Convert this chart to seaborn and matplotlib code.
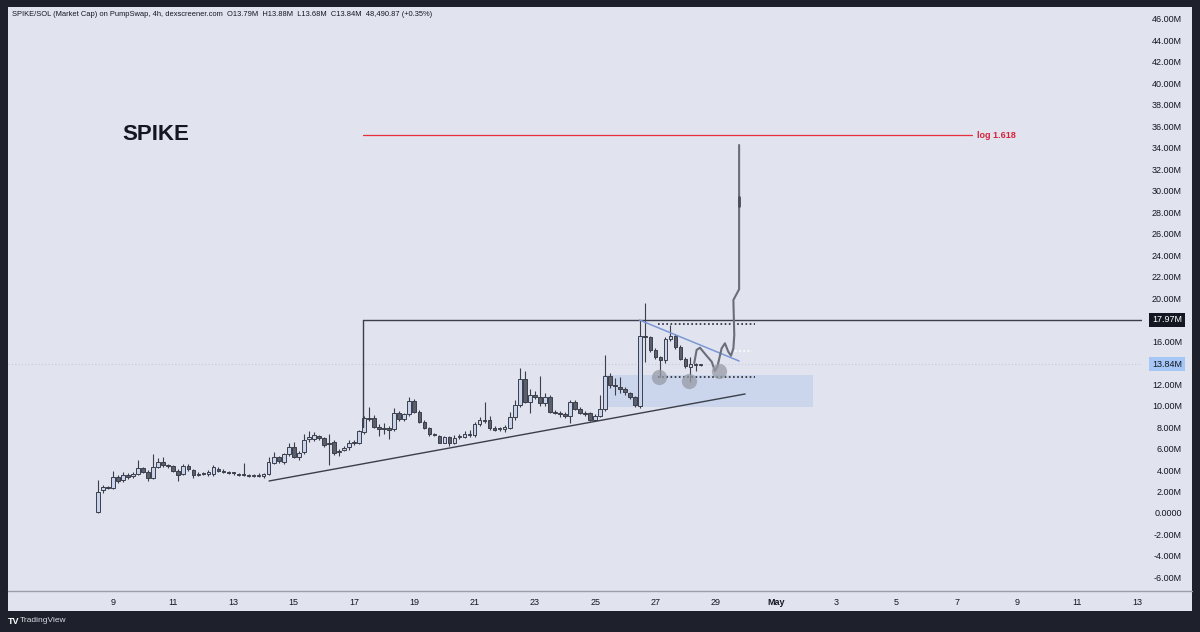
import numpy as np
import pandas as pd
import matplotlib
matplotlib.use("Agg")
import matplotlib.pyplot as plt
import matplotlib.transforms as mtransforms
from matplotlib.patches import Rectangle
from matplotlib.lines import Line2D
import seaborn as sns

# ---------------- data (values in millions, time in April days) ----------------
opens = [0.1, 2.1, 2.35, 2.3, 3.35, 3.1, 3.5, 3.4, 3.6, 4.15, 3.85, 3.3, 4.3, 4.75, 4.45, 4.35, 3.95, 3.6, 4.4, 4.0,
         3.55, 3.65, 3.6, 3.6, 4.1, 3.95, 3.8, 3.75, 3.6, 3.55, 3.5, 3.45, 3.45, 3.4, 3.65, 4.7, 5.2, 4.75, 5.45, 6.15,
         5.25, 5.7, 6.85, 6.85, 7.2, 6.95, 6.4, 6.6, 5.65, 5.9, 6.1, 6.5, 6.5, 7.55, 8.85, 8.8, 8.0, 7.85, 7.9, 7.8,
         9.3, 8.75, 9.2, 10.4, 9.4, 8.5, 7.9, 7.3, 7.2, 6.55, 7.1, 6.5, 7.05, 7.1, 7.4, 7.25, 8.3, 8.6, 8.65, 7.9,
         7.8, 7.8, 7.9, 8.9, 10.1, 12.5, 10.3, 11.0, 10.8, 10.2, 10.8, 9.4, 9.35, 9.2, 9.0, 10.3, 9.7, 9.3, 9.3, 8.7,
         9.0, 9.7, 12.8, 11.9, 11.75, 11.5, 11.2, 10.8, 10.0, 16.5, 16.35, 15.2, 14.5, 14.2, 16.2, 16.5, 15.5, 14.3, 13.6, 13.85,
         13.79]
highs = [3.1, 2.6, 2.5, 3.9, 3.5, 3.8, 3.7, 3.8, 4.9, 4.3, 4.0, 5.5, 5.1, 5.2, 4.6, 4.5, 4.1, 4.6, 4.6, 4.1,
         3.8, 3.8, 4.0, 4.5, 4.3, 4.1, 3.95, 3.85, 3.7, 4.65, 3.6, 3.6, 3.7, 3.75, 5.2, 5.7, 5.35, 5.6, 6.5, 6.6,
         5.8, 7.4, 7.6, 7.5, 7.3, 7.1, 7.4, 6.8, 6.0, 6.2, 6.8, 6.75, 7.7, 9.0, 9.9, 9.1, 8.3, 8.4, 8.1, 9.8,
         9.5, 9.3, 10.8, 10.6, 9.6, 8.7, 8.0, 7.45, 7.3, 7.2, 7.2, 7.3, 7.4, 7.6, 7.7, 8.45, 8.9, 10.3, 9.0, 8.1,
         8.0, 8.2, 9.4, 10.5, 13.5, 13.2, 11.5, 11.4, 12.8, 11.2, 11.0, 9.6, 9.5, 9.4, 10.5, 10.5, 9.9, 9.5, 9.4, 9.2,
         11.0, 14.7, 13.0, 12.6, 12.7, 11.7, 11.3, 10.9, 17.97, 19.55, 16.5, 15.4, 14.6, 16.4, 17.5, 16.7, 15.6, 14.5, 14.5, 14.0,
         13.88]
lows = [0.0, 1.9, 2.2, 2.2, 2.8, 2.9, 3.2, 3.3, 3.5, 3.7, 3.0, 3.2, 4.2, 4.3, 4.2, 3.8, 3.0, 3.5, 3.9, 3.3,
        3.4, 3.5, 3.4, 3.4, 3.8, 3.7, 3.65, 3.55, 3.4, 3.4, 3.35, 3.35, 3.35, 3.3, 3.5, 4.6, 4.7, 4.6, 5.3, 5.1,
        4.9, 5.5, 6.6, 6.7, 6.8, 6.1, 4.5, 5.4, 5.3, 5.8, 5.9, 6.3, 6.4, 7.4, 8.6, 7.9, 7.2, 7.4, 6.9, 7.6,
        8.6, 8.6, 9.0, 9.3, 8.4, 7.8, 7.2, 7.15, 6.5, 6.5, 6.2, 6.4, 6.9, 7.0, 7.1, 7.1, 8.1, 8.4, 7.7, 7.6,
        7.6, 7.5, 7.8, 8.7, 9.9, 10.2, 9.3, 10.6, 10.0, 10.0, 9.3, 9.2, 8.9, 8.8, 8.4, 9.6, 9.2, 9.0, 8.6, 8.6,
        8.9, 9.5, 11.6, 11.0, 11.2, 11.0, 10.6, 9.9, 9.8, 14.1, 15.0, 14.3, 12.7, 14.0, 16.0, 15.3, 14.2, 13.5, 12.2, 13.2,
        13.68]
closes = [2.0, 2.4, 2.3, 3.35, 3.0, 3.5, 3.35, 3.6, 4.2, 3.85, 3.3, 4.3, 4.75, 4.5, 4.35, 3.9, 3.5, 4.4, 4.05, 3.5,
          3.65, 3.6, 3.8, 4.3, 3.95, 3.8, 3.75, 3.7, 3.55, 3.5, 3.45, 3.45, 3.55, 3.65, 4.75, 5.2, 4.8, 5.5, 6.15, 5.25,
          5.6, 6.8, 7.1, 7.25, 6.95, 6.3, 6.5, 5.6, 5.75, 6.05, 6.5, 6.6, 7.6, 8.85, 8.75, 8.0, 7.8, 7.9, 7.75, 9.3,
          8.75, 9.2, 10.4, 9.4, 8.5, 7.9, 7.35, 7.25, 6.55, 7.1, 6.5, 7.0, 7.2, 7.4, 7.3, 8.3, 8.65, 8.7, 7.9, 7.75,
          7.85, 8.0, 8.9, 10.1, 12.5, 10.3, 11.0, 10.8, 10.2, 10.8, 9.4, 9.35, 9.2, 9.0, 10.3, 9.7, 9.3, 9.2, 8.7, 9.0,
          9.7, 12.8, 11.9, 11.8, 11.5, 11.25, 10.8, 10.05, 16.5, 16.35, 15.2, 14.5, 14.2, 16.2, 16.5, 15.5, 14.3, 13.7, 13.9, 13.8,
          13.84]
first_candle_day = 8.5          # Apr 8, 12:00
candle_step_days = 1 / 6        # 4h candles

# drawings
resist_level = 17.97
resist_start_day = 17.30
resist_vline_bottom = 8.0
fib_level = 35.19
fib_start_day, fib_end_day = 17.30, 37.51
trend_days = [14.18, 29.98]
trend_vals = [2.98, 11.08]
down_days = [26.47, 29.78]
down_vals = [17.97, 14.15]
zone_days = [25.26, 32.23]
zone_vals = [9.87, 12.85]
dot_days = [27.09, 30.31]
dot_top, dot_bottom = 17.6, 12.66
white_dot_days = [29.64, 30.21]
white_dot_val = 15.08
circle_days = [27.12, 28.12, 29.11]
circle_vals = [12.66, 12.29, 13.22]
path_days = [28.29, 28.37, 28.48, 28.68, 28.87, 28.98, 29.06, 29.20, 29.31, 29.42, 29.51, 29.59, 29.62, 29.59, 29.78, 29.78]
path_vals = [13.94, 15.18, 15.39, 14.71, 14.09, 13.22, 13.62, 15.33, 15.80, 15.02, 14.64, 15.33, 16.57, 19.83, 20.83, 34.26]
last_price = 13.84

x_ticks = [9, 11, 13, 15, 17, 19, 21, 23, 25, 27, 29, 31, 33, 35, 37, 39, 41, 43]
x_labels = ["9", "11", "13", "15", "17", "19", "21", "23", "25", "27", "29", "May", "3", "5", "7", "9", "11", "13"]
y_ticks = [-6, -4, -2, 0, 2, 4, 6, 8, 10, 12, 16, 20, 22, 24, 26, 28, 30, 32, 34, 36, 38, 40, 42, 44, 46]
y_labels = ["0.0000" if v == 0 else f"{v:.2f}M" for v in y_ticks]

header = ("SPIKE/SOL (Market Cap) on PumpSwap, 4h, dexscreener.com  O13.79M  H13.88M  "
          "L13.68M  C13.84M  48,490.87 (+0.35%)")

# ---------------- style ----------------
DARK = "#1e212b"
PANEL = "#e1e4ef"
INK = "#131722"
EDGE = "#3b3f4b"
BULL = "#c9d4ec"
BEAR = "#5b5f6b"

sns.set_theme(style="white")
plt.rcParams["font.family"] = ["Liberation Sans", "DejaVu Sans"]

W, H = 1200, 632
fig = plt.figure(figsize=(12, 6.32), dpi=100, facecolor=DARK)
fig.patches.append(Rectangle((8 / W, 21 / H), 1184 / W, 604 / H, transform=fig.transFigure,
                             facecolor=PANEL, edgecolor="none", zorder=-5))
ax = fig.add_axes([8 / W, (H - 591) / H, 1134 / W, 584 / H])
ax.set_zorder(2)
ax.set_facecolor(PANEL)
for s in ax.spines.values():
    s.set_visible(False)

df = pd.DataFrame({"open": opens, "high": highs, "low": lows, "close": closes})
df["t"] = first_candle_day + np.arange(len(df)) * candle_step_days
df["bull"] = df["close"] >= df["open"]
df["bottom"] = df[["open", "close"]].min(axis=1)
df["height"] = (df["close"] - df["open"]).abs().clip(lower=0.09)

# zone
ax.add_patch(Rectangle((zone_days[0], zone_vals[0]), zone_days[1] - zone_days[0], zone_vals[1] - zone_vals[0],
                       facecolor="#b9c9ea", alpha=0.55, edgecolor="none", zorder=1))

# last price dotted line
ax.axhline(last_price, color="#c2cbe0", lw=0.8, ls=(0, (1, 2)), zorder=1)

# wicks & bodies
ax.vlines(df["t"], df["low"], df["high"], color=EDGE, lw=0.8, zorder=2)
ax.bar(df["t"], df["height"], bottom=df["bottom"], width=0.12,
       color=np.where(df["bull"], BULL, BEAR), edgecolor=EDGE, linewidth=0.7, zorder=3)

# drawings
ax.plot([resist_start_day, 50], [resist_level, resist_level], color=EDGE, lw=1.0, zorder=4)
ax.plot([resist_start_day, resist_start_day], [resist_vline_bottom, resist_level], color=EDGE, lw=1.0, zorder=4)
ax.plot([fib_start_day, fib_end_day], [fib_level, fib_level], color="#e8303c", lw=0.9, zorder=4)
ax.text(fib_end_day + 0.15, fib_level, "log 1.618", color="#d8233a", fontsize=6.5, fontweight="bold",
        va="center", ha="left")
sns.lineplot(x=trend_days, y=trend_vals, ax=ax, color=EDGE, lw=1.0, zorder=4)
sns.lineplot(x=down_days, y=down_vals, ax=ax, color="#7b98d4", lw=1.1, zorder=4)
ax.plot(dot_days, [dot_top, dot_top], color="#222630", lw=1.2, ls=(0, (1, 1.5)), zorder=4)
ax.plot(dot_days, [dot_bottom, dot_bottom], color="#222630", lw=1.2, ls=(0, (1, 1.5)), zorder=4)
ax.plot(white_dot_days, [white_dot_val, white_dot_val], color="white", lw=1.2, ls=(0, (1, 1.5)), zorder=4)
sns.lineplot(x=path_days, y=path_vals, ax=ax, sort=False, estimator=None, color="#6a6e79", lw=1.5, zorder=5)
ax.plot([path_days[-1], path_days[-1]], [28.6, 29.4], color="#4a4e58", lw=2.0, zorder=5)

# circles (round in pixel space)
for d, v in zip(circle_days, circle_vals):
    ax.plot(d, v, marker="o", ms=11, color="#989ba6", alpha=0.75, mec="none", zorder=6)

ax.set_xlim(5.515, 43.152)
ax.set_ylim(-7.262, 47.109)

# axes
ax.set_xticks(x_ticks)
ax.set_xticklabels(x_labels)
for lab in ax.get_xticklabels():
    lab.set_fontsize(6.5)
    lab.set_color(INK)
    if lab.get_text() == "May":
        lab.set_fontweight("bold")
ax.tick_params(axis="x", length=0, pad=5)
ax.yaxis.tick_right()
ax.set_yticks(y_ticks)
ax.set_yticklabels(y_labels)
ax.tick_params(axis="y", length=0, pad=28.8, labelsize=6.5, labelcolor=INK)
for lab in ax.get_yticklabels():
    lab.set_horizontalalignment("right")
ax.set_xlabel("")
ax.set_ylabel("")

trans = mtransforms.blended_transform_factory(ax.transAxes, ax.transData)
xr = (1182 - 8) / 1134
ax.text(xr, resist_level, "17.97M", transform=trans, ha="right", va="center", fontsize=6.5, color="white",
        bbox=dict(boxstyle="square,pad=0.28", fc=INK, ec="none"), clip_on=False, zorder=10)
ax.text(xr, last_price, "13.84M", transform=trans, ha="right", va="center", fontsize=6.5, color=INK,
        bbox=dict(boxstyle="square,pad=0.28", fc="#a6c6f5", ec="none"), clip_on=False, zorder=10)

# x-axis separator
fig.lines.append(Line2D([8 / W, 1192 / W], [(H - 591) / H] * 2, transform=fig.transFigure,
                        color="#9a9daa", lw=1.0, zorder=3))

# texts
fig.text(12 / W, 1 - 15 / H, header, fontsize=5.4, color=INK, va="center", ha="left")
fig.text(122 / W, 1 - 135 / H, "SPIKE", fontsize=16, fontweight="bold", color=INK, va="center", ha="left")
fig.text(8 / W, 1 - 621 / H, "TV", fontsize=6.5, fontweight="bold", color="white", va="center", ha="left")
fig.text(20 / W, 1 - 621 / H, "TradingView", fontsize=6, color="#d8dae0", va="center", ha="left")

fig.savefig("out.png", dpi=100, facecolor=DARK)
